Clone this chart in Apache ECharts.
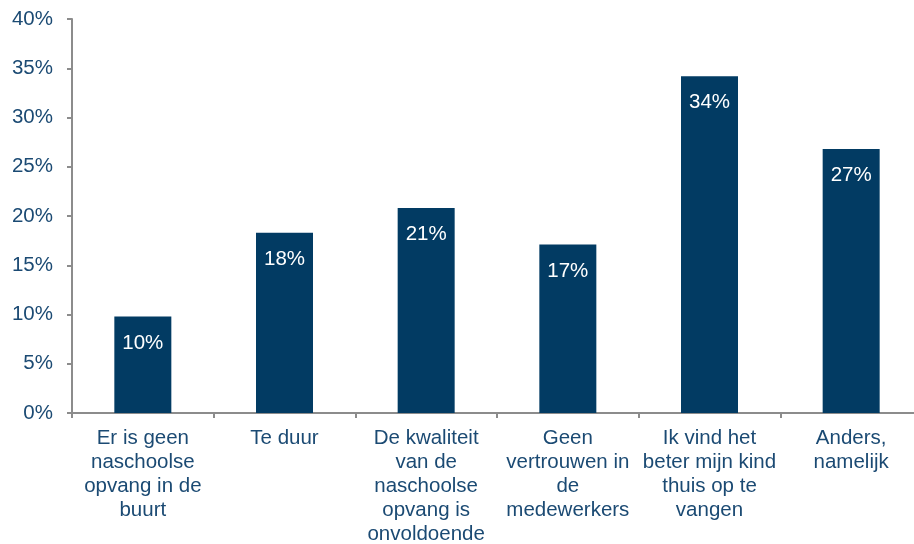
<!DOCTYPE html>
<html>
<head>
<meta charset="utf-8">
<script src="https://cdn.jsdelivr.net/npm/echarts@6/dist/echarts.min.js"></script>
<style>
  html, body { margin: 0; padding: 0; background: #fff; }
  #chart { width: 914px; height: 544px; }
</style>
</head>
<body>
<div id="chart"></div>
<script>
// categorieën (regels afgebroken zoals in het origineel)
const categories = [
  'Er is geen\nnaschoolse\nopvang in de\nbuurt',
  'Te duur',
  'De kwaliteit\nvan de\nnaschoolse\nopvang is\nonvoldoende',
  'Geen\nvertrouwen in\nde\nmedewerkers',
  'Ik vind het\nbeter mijn kind\nthuis op te\nvangen',
  'Anders,\nnamelijk'
];
// percentages
const values = [9.8, 18.3, 20.8, 17.1, 34.2, 26.8];
const yTicks = [0, 5, 10, 15, 20, 25, 30, 35, 40];

const textColor = '#1b4a73';
const barColor = '#023b63';
const axisColor = '#8c8c8c';
const font = 'Liberation Sans, Arial, sans-serif';

const chart = echarts.init(document.getElementById('chart'));

const option = {
  animation: false,
  grid: { left: 72, top: 19, right: -8, bottom: 131, outerBoundsMode: 'none' },
  xAxis: {
    type: 'category',
    data: categories,
    axisLine: { lineStyle: { color: axisColor, width: 2 } },
    axisTick: { show: true, length: 5, lineStyle: { color: axisColor, width: 2 } },
    axisLabel: {
      color: textColor,
      fontFamily: font,
      fontSize: 20.5,
      lineHeight: 24,
      margin: 13,
      interval: 0
    }
  },
  yAxis: {
    type: 'value',
    min: yTicks[0],
    max: yTicks[yTicks.length - 1],
    interval: 5,
    splitLine: { show: false },
    axisLine: { show: true, lineStyle: { color: axisColor, width: 2 } },
    axisTick: { show: true, length: 5, lineStyle: { color: axisColor, width: 2 } },
    axisLabel: {
      color: textColor,
      fontFamily: font,
      fontSize: 20.5,
      margin: 19,
      formatter: v => v + '%'
    }
  },
  series: [
    {
      type: 'bar',
      data: values,
      barWidth: 57,
      itemStyle: { color: barColor },
      label: {
        show: true,
        position: 'insideTop',
        distance: 16,
        color: '#ffffff',
        fontFamily: font,
        fontSize: 20.5,
        formatter: p => Math.round(p.value) + '%'
      }
    }
  ]
};

chart.setOption(option);
</script>
</body>
</html>
